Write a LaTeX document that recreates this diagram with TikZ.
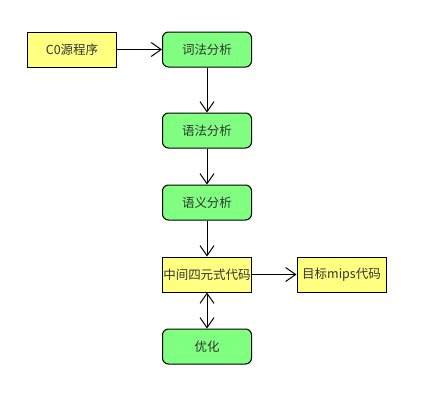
\documentclass[tikz,border=0pt]{standalone}
\usepackage{fontspec}
\setmainfont{Noto Sans CJK SC}
\usetikzlibrary{arrows.meta}
\definecolor{gfill}{HTML}{80FF80}
\definecolor{yfill}{HTML}{FFFF80}
\begin{document}
\begin{tikzpicture}[x=1pt,y=-1pt,
  base/.style={draw=black,line width=1pt,minimum width=89pt,minimum height=35pt,inner sep=0pt,font=\fontsize{12.5}{13}\selectfont,text=black!80},
  gbox/.style={base,fill=gfill,rounded corners=6pt},
  ybox/.style={base,fill=yfill},
  conn/.style={line width=1pt,-{Straight Barb[length=10pt,width=14pt]}}]
\path[use as bounding box] (0,0) rectangle (424,410);
\node[ybox] (src) at (72,49.5) {C0源程序};
\node[gbox] (lex) at (207,49.5) {词法分析};
\node[gbox] (syn) at (207,130.5) {语法分析};
\node[gbox] (sem) at (207,202.5) {语义分析};
\node[ybox] (mid) at (207,274.5) {中间四元式代码};
\node[ybox] (tgt) at (341.5,274.5) {目标mips代码};
\node[gbox] (opt) at (207,346.5) {优化};
\draw[conn] (src) -- (lex);
\draw[conn] (lex) -- (syn);
\draw[conn] (syn) -- (sem);
\draw[conn] (sem) -- (mid);
\draw[conn] (mid) -- (tgt);
\draw[line width=1pt,{Straight Barb[length=10pt,width=14pt]}-{Straight Barb[length=10pt,width=14pt]}] (mid) -- (opt);
\end{tikzpicture}
\end{document}
